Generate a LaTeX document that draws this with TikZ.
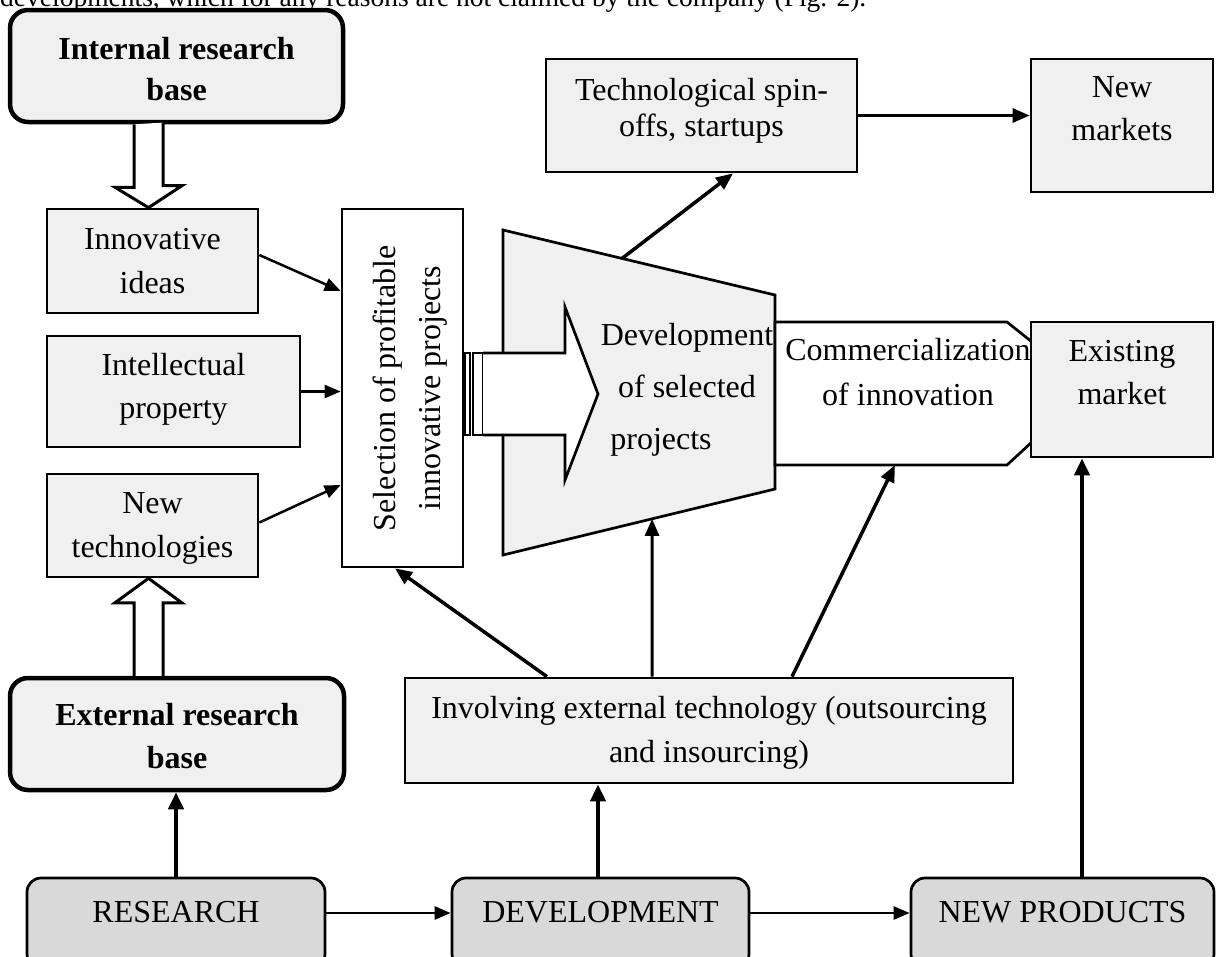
\documentclass[tikz,border=0pt]{standalone}
\usepackage{fontspec}
\setmainfont{Liberation Serif}
\usetikzlibrary{arrows.meta,calc}
\definecolor{lgray}{RGB}{240,240,240}
\definecolor{dgray}{RGB}{217,217,217}
\newcommand{\tp}{\rule{0pt}{24pt}}
\begin{document}
\begin{tikzpicture}[x=1pt,y=-1pt,
  bx/.style={draw, line width=2.7pt, fill=lgray, inner sep=0pt},
  wbx/.style={bx, fill=white},
  rbx/.style={bx, rounded corners=18pt, line width=4.5pt},
  gbx/.style={bx, fill=dgray, rounded corners=14pt},
  txt/.style={inner sep=0pt, anchor=north, align=center},
  fa/.style={font=\fontsize{32pt}{43pt}\selectfont},
  arr/.style={line width=2.5pt, -{Triangle[length=16pt,width=13pt]}},
  tarr/.style={line width=4pt, -{Triangle[length=17pt,width=15pt]}},
  marr/.style={line width=3.5pt, -{Triangle[length=17pt,width=14pt]}},
  hollow/.style={draw, line width=3pt, fill=white, line join=miter},
]
\useasboundingbox (0,0) rectangle (1217,956);
\begin{scope}
\clip (0,0) rectangle (1217,956);
% clipped running text at top
\node[anchor=base west, inner sep=0pt, font=\fontsize{27.5pt}{33pt}\selectfont] (intro) at (0,6) {developments, which for any reasons are not claimed by the company (Fig. 2).};

% trapezoid (development of selected projects)
\coordinate (tz1) at (503,230);
\coordinate (tz2) at (775,295);
\coordinate (tz3) at (775,489);
\coordinate (tz4) at (503,555);
\draw[bx] (tz1) -- (tz2) -- (tz3) -- (tz4) -- cycle;
% commercialization shape
\coordinate (cm1) at (775,322);
\coordinate (cm2) at (1007,322);
\coordinate (cm3) at (1032,342);
\coordinate (cm4) at (1032,442);
\coordinate (cm5) at (1007,465);
\coordinate (cm6) at (775,465);
\draw[bx, fill=white] (cm1) -- (cm2) -- (cm3) -- (cm4) -- (cm5) -- (cm6) -- cycle;

% boxes
\node[rbx, minimum width=333pt, minimum height=112pt] (ib) at (176.5,66) {};
\node[txt, font=\fontsize{32pt}{41pt}\selectfont\bfseries] (ibt) at (176.5,35) {\tp Internal research\\base};
\node[rbx, minimum width=334pt, minimum height=112pt] (eb) at (177,734) {};
\node[txt, font=\fontsize{32pt}{43pt}\selectfont\bfseries] (ebt) at (177,701) {\tp External research\\base};

\node[bx, minimum width=211pt, minimum height=104pt] (ideas) at (152.5,261) {};
\node[txt, font=\fontsize{32pt}{44pt}\selectfont] (ideast) at (152.5,225) {\tp Innovative\\ideas};
\node[bx, minimum width=253pt, minimum height=111pt] (intel) at (173.5,391.5) {};
\node[txt, font=\fontsize{32pt}{43pt}\selectfont] (intelt) at (173.5,351) {\tp Intellectual\\property};
\node[bx, minimum width=211pt, minimum height=103pt] (newtech) at (152.5,525.5) {};
\node[txt, font=\fontsize{32pt}{44pt}\selectfont] (newtecht) at (152.5,489) {\tp New\\technologies};

\node[wbx, minimum width=121pt, minimum height=358pt] (sel) at (402.5,388) {};
\node[txt, rotate=90, font=\fontsize{32pt}{45pt}\selectfont] (selt) at (371,388) {\tp Selection of profitable\\innovative projects};

\node[bx, minimum width=311pt, minimum height=113pt] (tech) at (701.5,115.5) {};
\node[txt, font=\fontsize{32pt}{36pt}\selectfont] (techt) at (701.5,76) {\tp Technological spin-\\offs, startups};
\node[bx, minimum width=182pt, minimum height=133pt] (nm) at (1122,125.5) {};
\node[txt, font=\fontsize{32pt}{43pt}\selectfont] (nmt) at (1122,73) {\tp New\\markets};
\node[bx, minimum width=182pt, minimum height=135pt] (exist) at (1122,389.5) {};
\node[txt, font=\fontsize{32pt}{43pt}\selectfont] (existt) at (1122,337) {\tp Existing\\market};

\node[bx, minimum width=608pt, minimum height=105pt] (inv) at (709,730.5) {};
\node[txt, font=\fontsize{32pt}{44pt}\selectfont] (invt) at (709,694) {\tp Involving external technology (outsourcing\\and insourcing)};

\node[gbx, minimum width=298pt, minimum height=90pt] (res) at (176,923) {};
\node[txt, fa] (rest) at (176,898) {\tp RESEARCH};
\node[gbx, minimum width=297pt, minimum height=90pt] (dev) at (600.5,923) {};
\node[txt, fa] (devt) at (600.5,898) {\tp DEVELOPMENT};
\node[gbx, minimum width=303pt, minimum height=90pt] (np) at (1062.5,923) {};
\node[txt, fa] (npt) at (1062.5,898) {\tp NEW PRODUCTS};

% big white arrow with connector strips
\draw[line width=2pt, fill=white] (465,353) rectangle (470,435);
\draw[line width=2pt, fill=white] (473,353) rectangle (483,435);
\draw[line width=2.7pt, fill=white, line join=miter] (483,353) -- (565,353) -- (565,307) -- (598,394) -- (565,480) -- (565,435) -- (483,435);

% texts inside trapezoid and commercialization shape
\node[txt, font=\fontsize{32pt}{52pt}\selectfont] (devsel) at (687,321) {\tp Development\\of selected\\projects\hspace*{52pt}};
\node[txt, font=\fontsize{32pt}{45pt}\selectfont] (comt) at (908,336) {\tp Commercialization\\of innovation};

% hollow arrows
\draw[hollow] ([xshift=-42.5pt]ib.south) -- ++(0,63) -- ++(-19,0) -- ([xshift=-4pt]ideas.north) -- ++(33.5,-22) -- ++(-19,0) -- ++(0,-63);
\draw[hollow] ([xshift=-43pt]eb.north) -- ++(0,-73) -- ++(-19,0) -- ([xshift=-4pt]newtech.south) -- ++(33.5,24.5) -- ++(-19,0) -- ++(0,73);

% connector end points
\coordinate (tzt) at ($(tz1)!0.4375!(tz2)$);
\coordinate (tzb) at ($(tz4)!0.548!(tz3)$);
\coordinate (cmb) at ($(cm6)!0.517!(cm5)$);
\coordinate (rs) at ([yshift=10pt]res.east);
\coordinate (ds) at ([yshift=10pt]dev.east);
\coordinate (dn) at ([xshift=-2.5pt]dev.north);
\coordinate (nn) at ([xshift=19.5pt]np.north);

% connectors
\draw[arr] ([yshift=6pt]ideas.east) -- ([yshift=97pt]sel.west);
\draw[arr] (intel.east) -- (sel.west |- intel.east);
\draw[arr] ([yshift=3pt]newtech.east) -- ([yshift=-97pt]sel.west);
\draw[marr] ([xshift=-162pt]inv.north) -- ([xshift=-7.5pt]sel.south);
\draw[line width=3pt, -{Triangle[length=17pt,width=14pt]}] ([xshift=-57pt]inv.north) -- (tzb);
\draw[marr] ([xshift=83pt]inv.north) -- (cmb);
\draw[marr] (tzt) -- ([xshift=31.5pt]tech.south);
\draw[line width=3pt, -{Triangle[length=17pt,width=14pt]}] (tech.east) -- (nm.west |- tech.east);
\draw[tarr] (res.north) -- (eb.south -| res.north);
\draw[arr] (rs) -- (dev.west |- rs);
\draw[tarr] (dn) -- (inv.south -| dn);
\draw[arr] (ds) -- (np.west |- ds);
\draw[tarr] (nn) -- (exist.south -| nn);
\end{scope}
\end{tikzpicture}
\end{document}
